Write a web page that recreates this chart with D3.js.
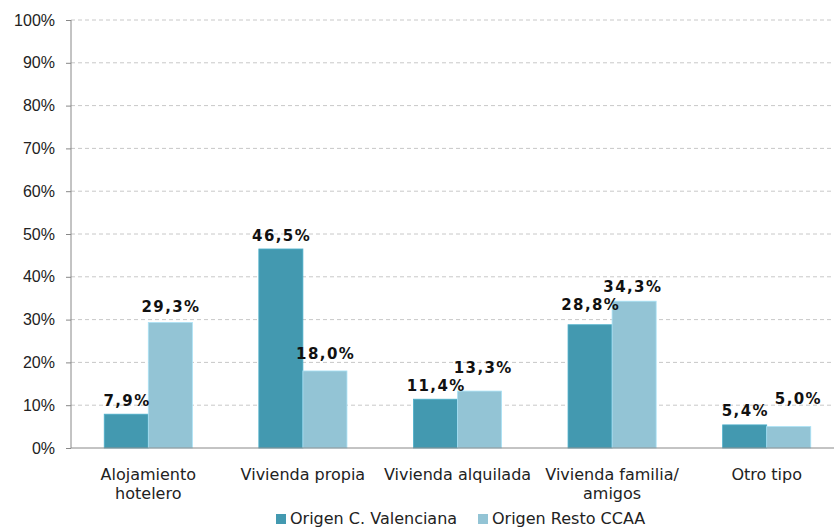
<!DOCTYPE html>
<html>
<head>
  <script src="https://cdnjs.cloudflare.com/ajax/libs/d3/7.8.5/d3.min.js"></script>
  <style>
    body { margin: 0; background: white; }
    svg { display: block; font-family: "DejaVu Sans", Verdana, sans-serif; }
    .grid line { stroke: #c8c8c8; stroke-dasharray: 4 3; }
    .axis path, .axis line { stroke: #888; }
    .axis text { fill: #222; font-size: 16px; }
    .value { font-size: 15px; font-weight: bold; fill: #111; letter-spacing: 1.4px; }
    .legend text { font-size: 16px; fill: #222; }
  </style>
</head>
<body>
  <div id="chart"></div>
  <script>
    const categories = ["Alojamiento\nhotelero", "Vivienda propia", "Vivienda alquilada", "Vivienda familia/\namigos", "Otro tipo"];
    const seriesNames = ["Origen C. Valenciana", "Origen Resto CCAA"];
    const valenciana = [7.9, 46.5, 11.4, 28.8, 5.4];
    const resto = [29.3, 18.0, 13.3, 34.3, 5.0];
    const yTicks = [0, 10, 20, 30, 40, 50, 60, 70, 80, 90, 100];
    const colors = ["#4399b0", "#93c4d5"];

    // label nudges (px) so neighbouring labels don't collide, as in the original
    const labelDy = [[8, 8, 8, 15, 9], [11, 12, 18, 9, 23]];
    const labelDx = [[0, 0, 0, 0, 0], [0, 0, 3, -2, 9]];

    const width = 834, height = 527;
    const margin = { left: 71, top: 20, right: -10, bottom: 79 };
    const plotH = height - margin.top - margin.bottom;

    const svg = d3.select("#chart").append("svg")
      .attr("width", width)
      .attr("height", height);

    const x = d3.scaleBand()
      .domain(categories)
      .range([margin.left, width - margin.right])
      .paddingInner(0.43)
      .paddingOuter(0.215);

    const xSub = d3.scaleBand()
      .domain(seriesNames)
      .range([0, x.bandwidth()]);

    const y = d3.scaleLinear()
      .domain([0, 100])
      .range([margin.top + plotH, margin.top]);

    // gridlines
    svg.append("g")
      .attr("class", "grid")
      .selectAll("line")
      .data(yTicks.filter(d => d > 0))
      .enter()
      .append("line")
      .attr("x1", margin.left)
      .attr("x2", width)
      .attr("y1", d => y(d))
      .attr("y2", d => y(d));

    // y axis
    const yAxis = svg.append("g")
      .attr("class", "axis")
      .attr("transform", `translate(${margin.left},0)`)
      .call(d3.axisLeft(y).tickValues(yTicks).tickSize(5).tickPadding(11).tickFormat(d => d + "%"));
    yAxis.select(".domain").attr("d", `M0,${y(100)}V${y(0)}`);

    const data = categories.map((c, i) => ({ cat: c, i, values: [valenciana[i], resto[i]] }));

    const groups = svg.append("g")
      .selectAll("g")
      .data(data)
      .enter()
      .append("g")
      .attr("transform", d => `translate(${x(d.cat)},0)`);

    const items = d => d.values.map((v, j) => ({ name: seriesNames[j], v, j, i: d.i }));

    groups.selectAll("rect")
      .data(items)
      .enter()
      .append("rect")
      .attr("x", d => xSub(d.name))
      .attr("width", xSub.bandwidth())
      .attr("y", d => y(d.v))
      .attr("height", d => y(0) - y(d.v))
      .attr("fill", d => colors[d.j])
      .attr("stroke", d => d3.color(colors[d.j]).brighter(0.4))
      .attr("stroke-width", 0.8);

    groups.selectAll("text.value")
      .data(items)
      .enter()
      .append("text")
      .attr("class", "value")
      .attr("text-anchor", "middle")
      .attr("x", d => xSub(d.name) + xSub.bandwidth() / 2 + labelDx[d.j][d.i] + 0.7)
      .attr("y", d => y(d.v) - labelDy[d.j][d.i])
      .text(d => d.v.toFixed(1).replace(".", ",") + "%");

    // x axis line
    svg.append("line")
      .attr("x1", margin.left)
      .attr("x2", width)
      .attr("y1", y(0))
      .attr("y2", y(0))
      .attr("stroke", "#888");

    // category labels
    svg.append("g")
      .attr("class", "axis")
      .selectAll("text")
      .data(categories)
      .enter()
      .append("text")
      .attr("text-anchor", "middle")
      .attr("x", d => x(d) + x.bandwidth() / 2)
      .attr("y", y(0) + 32)
      .selectAll("tspan")
      .data(d => d.split("\n"))
      .enter()
      .append("tspan")
      .attr("x", function() { return d3.select(this.parentNode).attr("x"); })
      .attr("dy", (d, i) => i === 0 ? 0 : 19)
      .text(d => d);

    // legend
    const legend = svg.append("g").attr("class", "legend");
    const legendX = [276, 478];
    seriesNames.forEach((name, i) => {
      legend.append("rect")
        .attr("x", legendX[i])
        .attr("y", 514)
        .attr("width", 10)
        .attr("height", 10)
        .attr("fill", colors[i]);
      legend.append("text")
        .attr("x", legendX[i] + 14)
        .attr("y", 524)
        .text(name);
    });
  </script>
</body>
</html>
